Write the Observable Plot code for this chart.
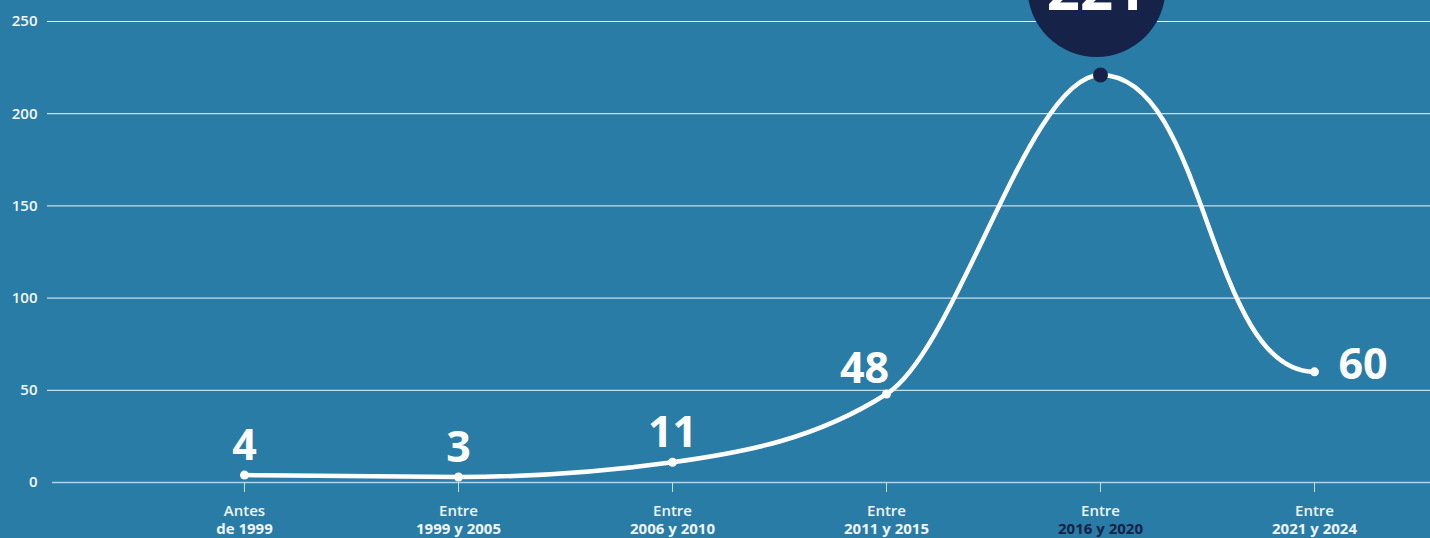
<!DOCTYPE html>
<html>
<head>
<meta charset="utf-8">
<script src="https://cdn.jsdelivr.net/npm/d3@7"></script>
<script src="https://cdn.jsdelivr.net/npm/@observablehq/plot@0.6"></script>
<style>
  html, body { margin: 0; padding: 0; background: #287ca6; overflow: hidden; }
  #chart svg { display: block; }
</style>
</head>
<body>
<div id="chart"></div>
<script>
const categories = ["Antes de 1999", "Entre 1999 y 2005", "Entre 2006 y 2010", "Entre 2011 y 2015", "Entre 2016 y 2020", "Entre 2021 y 2024"];
const labelLine1 = ["Antes", "Entre", "Entre", "Entre", "Entre", "Entre"];
const labelLine2 = ["de 1999", "1999 y 2005", "2006 y 2010", "2011 y 2015", "2016 y 2020", "2021 y 2024"];
const values = [4, 3, 11, 48, 221, 60];
const yTicks = [0, 50, 100, 150, 200, 250];
const highlightCategory = "Entre 2016 y 2020";

const data = categories.map((c, i) => ({cat: c, l1: labelLine1[i], l2: labelLine2[i], v: values[i]}));
const peak = data.filter(d => d.cat === highlightCategory);
const others = data.filter(d => d.cat !== highlightCategory);

const BG = "#287ca6";
const NAVY = "#162247";
const WHITE = "#ffffff";

// Monotone cubic curve (like d3.curveMonotoneX) whose last point has a flat tangent
function monotoneFlatEnd(context) {
  let xs = [], ys = [];
  const sign = v => v < 0 ? -1 : 1;
  return {
    areaStart() {}, areaEnd() {},
    lineStart() { xs = []; ys = []; },
    point(x, y) { xs.push(+x); ys.push(+y); },
    lineEnd() {
      const n = xs.length;
      if (!n) return;
      context.moveTo(xs[0], ys[0]);
      if (n === 1) return;
      const h = [], s = [];
      for (let i = 0; i < n - 1; i++) { h[i] = xs[i + 1] - xs[i]; s[i] = (ys[i + 1] - ys[i]) / h[i]; }
      const t = new Array(n).fill(0);
      for (let i = 1; i < n - 1; i++) {
        const s0 = s[i - 1], s1 = s[i], h0 = h[i - 1], h1 = h[i];
        if (s0 * s1 <= 0) { t[i] = 0; continue; }
        const p = (s0 * h1 + s1 * h0) / (h0 + h1);
        t[i] = (sign(s0) + sign(s1)) * Math.min(Math.abs(s0), Math.abs(s1), 0.5 * Math.abs(p));
      }
      t[0] = n > 2 ? (3 * s[0] - t[1]) / 2 : s[0];
      t[n - 1] = 0;
      for (let i = 0; i < n - 1; i++) {
        const last = i === n - 2;
        const k = last ? h[i] / 2 : h[i] / 3;
        context.bezierCurveTo(xs[i] + k, ys[i] + k * t[i], xs[i + 1] - k, ys[i + 1] - k * t[i + 1], xs[i + 1], ys[i + 1]);
      }
    }
  };
}

const chart = Plot.plot({
  width: 1430,
  height: 538,
  marginTop: 21,
  marginBottom: 56,
  marginLeft: 47,
  marginRight: 0,
  style: {background: BG, color: WHITE, fontFamily: "'Open Sans', 'Noto Sans', sans-serif"},
  x: {type: "point", domain: categories, range: [243, 1315], padding: 0},
  y: {domain: [0, 250], ticks: yTicks},
  marks: [
    Plot.ruleY(yTicks.filter(t => t > 0), {stroke: "#f2f7fa", strokeWidth: 1}),
    Plot.ruleY([0], {stroke: "#b3d3e4", strokeWidth: 1.5, insetLeft: 5}),
    Plot.axisY({ticks: yTicks, tickSize: 0, tickPadding: 10, label: null, fontSize: 15, fontWeight: 600, fill: "#f4f8fb"}),
    Plot.axisX({tickSize: 10, tickFormat: () => "", label: null, stroke: "#c5dce8"}),
    Plot.text(data, {x: "cat", y: 0, text: "l1", dy: 29, fontSize: 15, fontWeight: 600, fill: "#eef4f8"}),
    Plot.text(data, {x: "cat", y: 0, text: "l2", dy: 47, fontSize: 15, fontWeight: 700,
      fill: d => d.cat === highlightCategory ? NAVY : "#eef4f8"}),
    Plot.line(data, {x: "cat", y: "v", curve: monotoneFlatEnd, stroke: WHITE, strokeWidth: 4.5, strokeLinecap: "round"}),
    Plot.dot(others, {x: "cat", y: "v", r: 4.5, fill: WHITE}),
    Plot.dot(peak, {x: "cat", y: "v", r: 7.5, fill: NAVY}),
    Plot.dot(peak, {x: "cat", y: "v", r: 69, fill: NAVY, dy: -87, dx: -4}),
    Plot.text(peak, {x: "cat", y: "v", text: d => String(d.v), dy: -84, dx: -4, fontSize: 58, fontWeight: 700, fill: WHITE}),
    Plot.text(data.filter((d, i) => i < 3), {x: "cat", y: "v", text: d => String(d.v), dy: -29, fontSize: 43, fontWeight: 700, fill: WHITE}),
    Plot.text(data.filter((d, i) => i === 3), {x: "cat", y: "v", text: d => String(d.v), dy: -25, dx: -22, fontSize: 43, fontWeight: 700, fill: WHITE}),
    Plot.text(data.filter((d, i) => i === 5), {x: "cat", y: "v", text: d => String(d.v), dy: -7, dx: 24, textAnchor: "start", fontSize: 43, fontWeight: 700, fill: WHITE})
  ]
});
document.getElementById("chart").appendChild(chart);
</script>
</body>
</html>
